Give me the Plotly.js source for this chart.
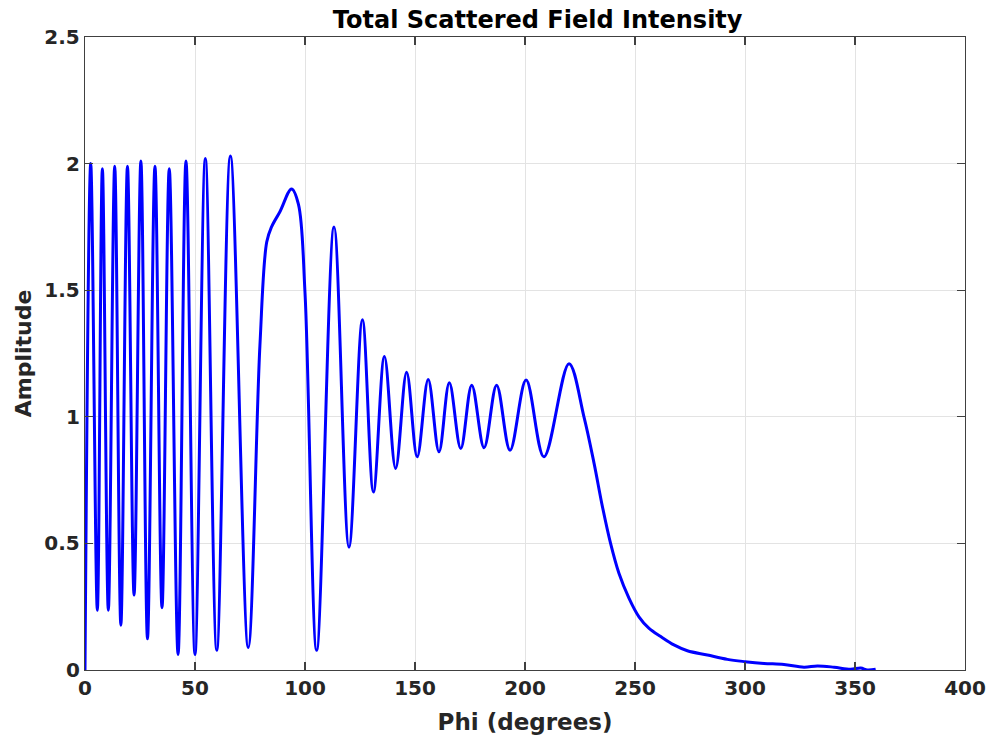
<!DOCTYPE html>
<html>
<head>
<meta charset="utf-8">
<script src="https://cdn.plot.ly/plotly-3.0.1.min.js"></script>
<style>
html,body{margin:0;padding:0;background:#fff;}
#chart{width:992px;height:740px;}
</style>
</head>
<body>
<div id="chart"></div>
<script>
const phi = [0, 2.6, 5.6, 7.9, 10.6, 13.5, 16.3, 19.3, 22.3, 25.4, 28.4, 31.8, 35.0, 38.3, 42.3, 45.9, 50.0, 54.7, 59.9, 66.1, 74.2, 79.5, 82.6, 84.8, 88.6, 93.9, 97.0, 100.0, 105.3, 113.2, 120.0, 126.1, 131.1, 136.1, 141.2, 146.2, 151.0, 156.0, 160.9, 165.6, 170.8, 175.8, 181.4, 187.1, 193.2, 200.5, 208.6, 220.0, 226.8, 231.4, 235.2, 238.9, 242.7, 247.3, 251.8, 256.4, 261.7, 267.7, 273.8, 282.9, 292.0, 300.0, 308.6, 317.7, 326.8, 332.9, 340.5, 348.0, 352.6, 355.6, 359.4];
const amplitude = [0, 2.00, 0.236, 1.98, 0.236, 1.99, 0.177, 1.99, 0.296, 2.01, 0.123, 1.99, 0.246, 1.98, 0.061, 2.01, 0.061, 2.02, 0.078, 2.03, 0.089, 1.28, 1.69, 1.75, 1.81, 1.90, 1.84, 1.49, 0.078, 1.75, 0.485, 1.383, 0.703, 1.238, 0.796, 1.176, 0.842, 1.147, 0.862, 1.134, 0.875, 1.125, 0.878, 1.125, 0.868, 1.145, 0.842, 1.21, 1.0, 0.816, 0.645, 0.5, 0.382, 0.283, 0.21, 0.164, 0.132, 0.099, 0.076, 0.059, 0.042, 0.033, 0.026, 0.022, 0.011, 0.016, 0.011, 0.003, 0.008, 0, 0.003];
const xTicks = [0, 50, 100, 150, 200, 250, 300, 350, 400];
const yTicks = [0, 0.5, 1, 1.5, 2, 2.5];

const fontFam = 'DejaVu Sans, Verdana, sans-serif';
const axisCommon = {
  showgrid: true, gridcolor: '#e3e3e3', gridwidth: 1,
  zeroline: false, showline: true, linecolor: '#404040', linewidth: 1.2,
  mirror: 'ticks', ticks: 'inside', ticklen: 8, tickwidth: 1.2, tickcolor: '#404040',
  tickfont: {family: fontFam, size: 20, color: '#262626', weight: 'bold'}
};

const trace = {
  x: phi, y: amplitude, type: 'scatter', mode: 'lines',
  line: {color: '#0000ff', width: 3, shape: 'spline', smoothing: 1},
  hoverinfo: 'skip'
};

const layout = {
  width: 992, height: 740,
  margin: {l: 85, r: 27, t: 37, b: 70},
  paper_bgcolor: '#ffffff', plot_bgcolor: '#ffffff',
  showlegend: false,
  title: {text: '<b>Total Scattered Field Intensity</b>', xref: 'container', x: 0.542, xanchor: 'center', y: 0.974, yanchor: 'middle',
          font: {family: fontFam, size: 24, color: '#000000'}},
  xaxis: Object.assign({}, axisCommon, {
    range: [0, 400], tickvals: xTicks, ticktext: xTicks.map(String),
    title: {text: '<b>Phi (degrees)</b>', standoff: 14, font: {family: fontFam, size: 23, color: '#262626'}}
  }),
  yaxis: Object.assign({}, axisCommon, {
    range: [0, 2.5], tickvals: yTicks, ticktext: yTicks.map(String),
    title: {text: '<b>Amplitude</b>', standoff: 6, font: {family: fontFam, size: 22, color: '#262626'}}
  })
};

Plotly.newPlot('chart', [trace], layout, {displayModeBar: false, staticPlot: true});
</script>
</body>
</html>
